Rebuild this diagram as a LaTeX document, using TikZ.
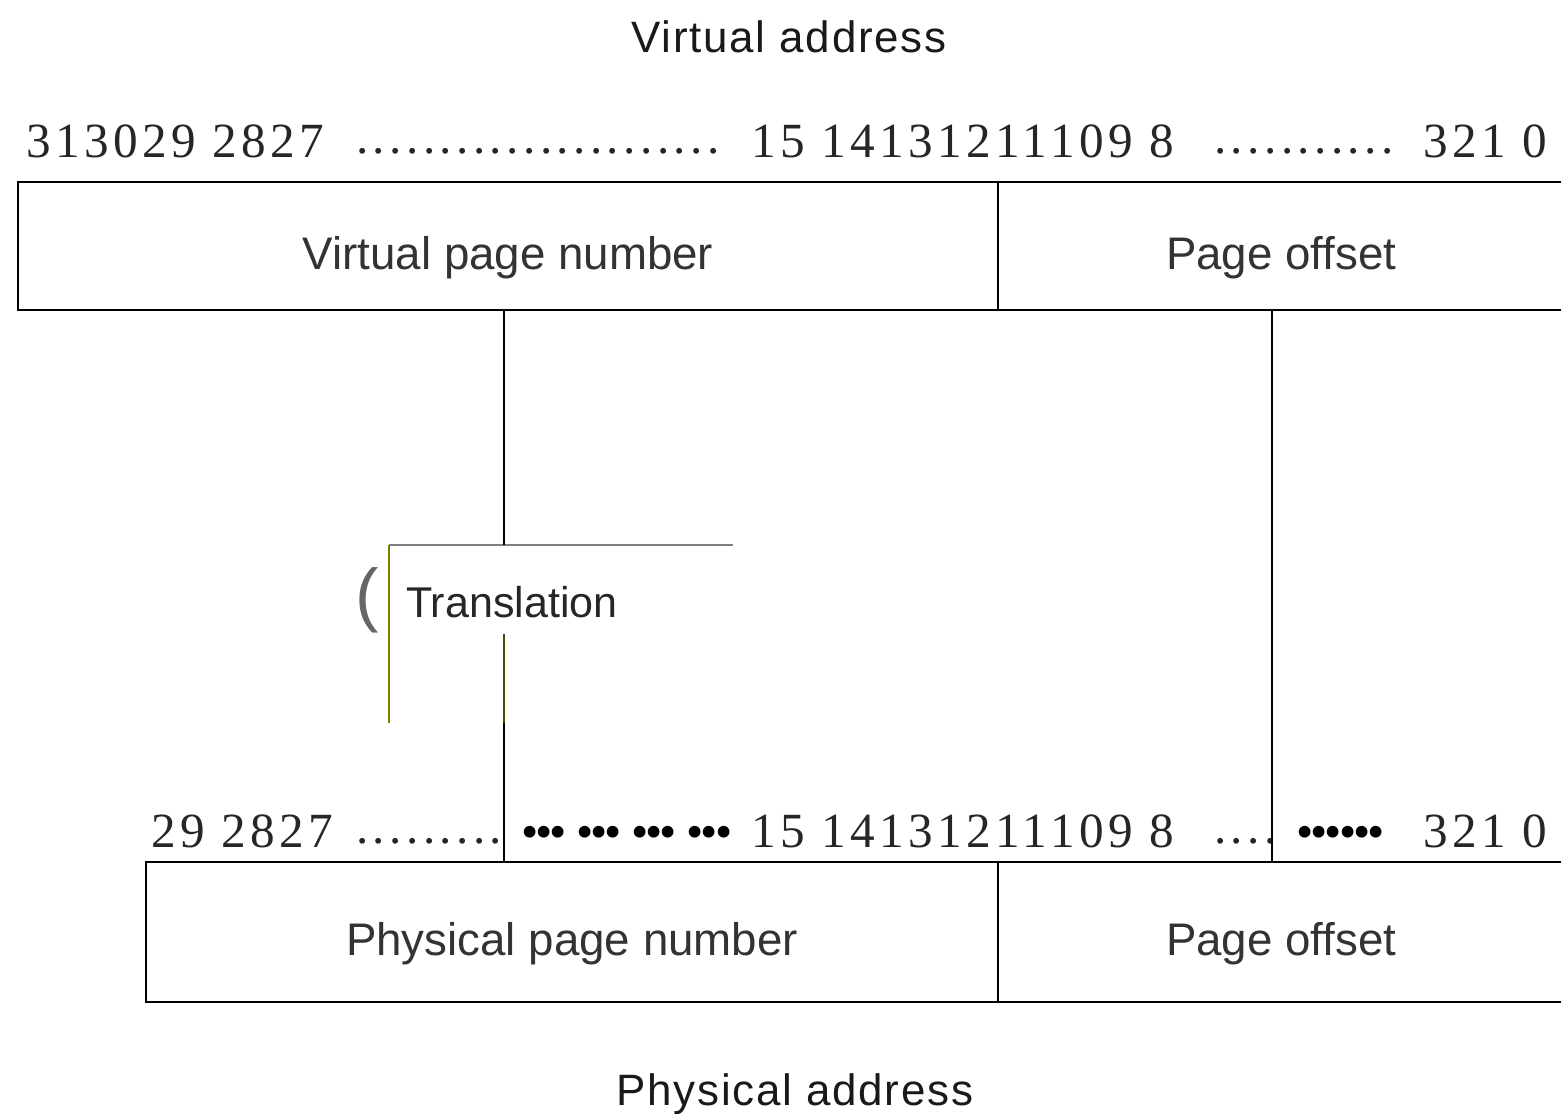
\documentclass[tikz,border=0pt]{standalone}
\usepackage{fontspec}
\setmainfont{Liberation Serif}
\newfontfamily\labelfont{Liberation Sans}
\newfontfamily\titlefont[LetterSpace=4]{Liberation Sans}
\newfontfamily\bitfont[LetterSpace=9]{Liberation Serif}
\newfontfamily\dotfont[LetterSpace=-6]{Liberation Serif}
\definecolor{txtgray}{RGB}{51,51,51}
\definecolor{olivebar}{RGB}{128,128,0}
\definecolor{darkolive}{RGB}{72,72,0}
\usetikzlibrary{positioning}

\begin{document}
\begin{tikzpicture}[x=0.02cm, y=-0.02cm, line width=1.3pt,
  field/.style={inner sep=0pt, minimum height=2.52cm, text height=27pt, text depth=0pt, font=\labelfont\fontsize{26}{28}\selectfont, text=txtgray},
  bits/.style={anchor=base west, inner sep=0pt, font=\bitfont\fontsize{28}{30}\selectfont, text=black!85},
  bigdots/.style={bits, font=\dotfont\fontsize{28}{30}\selectfont, text=black},
  title/.style={anchor=base, inner sep=0pt, font=\titlefont\fontsize{25}{28}\selectfont, text=black!90}
]
  \useasboundingbox (0,0) rectangle (1561,1116);

  %% Titles
  \node[title] (vaddr) at (789,52) {Virtual address};
  \node[title] (paddr) at (795,1105) {Physical address};

  %% Virtual address: bit numbers
  \node[bits] (vb1) at (25,157) {313029 2827};
  \node[bits] (vb2) at (355,153) {......................};
  \node[bits] (vb3) at (750,157) {15 14131211109 8};
  \node[bits] (vb4) at (1213,153) {...........};
  \node[bits] (vb5) at (1422,157) {321 0};

  %% Virtual address: fields
  \node[field, minimum width=19.56cm] (vpn) at (508,246) {Virtual page number};
  \node[field, minimum width=11.28cm, right=0pt of vpn] (po1) {Page offset};
  \draw (po1.north east) -- (vpn.north west) -- (vpn.south west) -- (po1.south east);
  \draw (vpn.north east) -- (vpn.south east);

  %% Physical address: bit numbers
  \node[bits] (pb1) at (150,847) {29 2827};
  \node[bits] (pb2) at (355,843) {.........};
  \node[bigdots] (pb3) at (520,848) {••• ••• ••• •••};
  \node[bits] (pb4) at (750,847) {15 14131211109 8};
  \node[bits] (pb5) at (1213,843) {....};
  \node[bigdots] (pb6) at (1295,848) {••••••};
  \node[bits] (pb7) at (1422,847) {321 0};

  %% Physical address: fields
  \node[field, minimum width=17cm, minimum height=2.76cm] (ppn) at (572,932) {Physical page number};
  \node[field, minimum width=11.28cm, minimum height=2.76cm, right=0pt of ppn] (po2) {Page offset};
  \draw (po2.north east) -- (ppn.north west) -- (ppn.south west) -- (po2.south east);
  \draw (ppn.north east) -- (ppn.south east);

  %% Translation
  \coordinate (tnw) at (389,545);
  \coordinate (tne) at (733,545);
  \coordinate (tsw) at (389,723);
  \coordinate (tmid) at (504,634);
  \coordinate (vx) at (504,0);
  \coordinate (ox) at (1272,0);
  \node[anchor=base west, inner sep=0pt, font=\labelfont\fontsize{24.5}{26}\selectfont, text=black!85] (trans) at (405,617) {Translation};
  \node[inner sep=0pt, font=\labelfont\fontsize{40}{42}\selectfont, text=black!60] (paren) at (367,600) {(};
  \draw[black!50, line width=1pt] (tnw) -- (tne);
  \draw[olivebar, line width=1pt] (tnw) -- (tsw);

  %% Connectors
  \draw (vpn.south -| vx) -- (tnw -| vx);
  \draw[darkolive] (tmid) -- (tmid |- tsw);
  \draw (tmid |- tsw) -- (ppn.north -| vx);
  \draw (po1.south -| ox) -- (po2.north -| ox);
\end{tikzpicture}
\end{document}
